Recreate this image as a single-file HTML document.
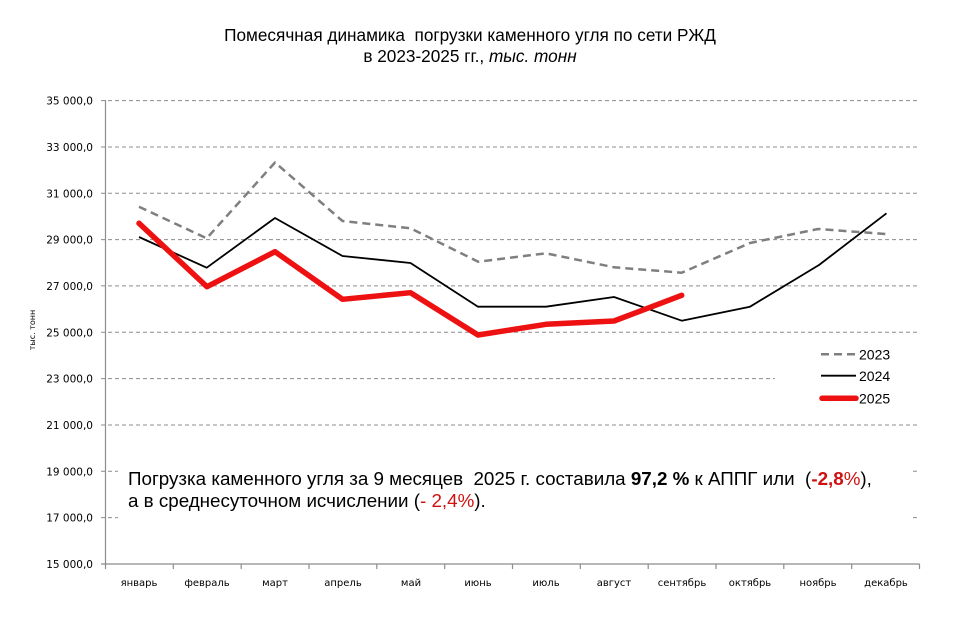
<!DOCTYPE html>
<html><head><meta charset="utf-8"><style>
html,body{margin:0;padding:0;background:#fff;}
svg{display:block;}
.t{font-family:"Liberation Sans",Arial,sans-serif;}
.v{font-family:"DejaVu Sans",Verdana,sans-serif;}
</style></head><body>
<svg width="977" height="638" viewBox="0 0 977 638" xmlns="http://www.w3.org/2000/svg">
<rect width="977" height="638" fill="#fff"/>
<!-- title -->
<text class="t" x="470" y="41" font-size="17.2" text-anchor="middle" fill="#000" style="white-space:pre">Помесячная динамика  погрузки каменного угля по сети РЖД</text>
<text class="t" x="470" y="62" font-size="17.2" text-anchor="middle" fill="#000">в 2023-2025 гг., <tspan font-style="italic">тыс. тонн</tspan></text>
<!-- gridlines -->
<g stroke="#8c8c8c" stroke-width="1" stroke-dasharray="4,3">
<line x1="101" y1="100.6" x2="917" y2="100.6"/>
<line x1="101" y1="147" x2="917" y2="147"/>
<line x1="101" y1="193.3" x2="917" y2="193.3"/>
<line x1="101" y1="239.6" x2="917" y2="239.6"/>
<line x1="101" y1="285.9" x2="917" y2="285.9"/>
<line x1="101" y1="332.3" x2="917" y2="332.3"/>
<line x1="101" y1="378.6" x2="917" y2="378.6"/>
<line x1="101" y1="425" x2="917" y2="425"/>
<line x1="101" y1="471.3" x2="917" y2="471.3"/>
<line x1="101" y1="517.6" x2="917" y2="517.6"/>
</g>
<!-- axes -->
<g stroke="#8c8c8c" stroke-width="1.2">
<line x1="105.5" y1="100" x2="105.5" y2="564"/>
<line x1="101" y1="564" x2="919.5" y2="564"/>
<line x1="105.5" y1="564" x2="105.5" y2="569"/>
<line x1="173.3" y1="564" x2="173.3" y2="569"/>
<line x1="241.2" y1="564" x2="241.2" y2="569"/>
<line x1="309" y1="564" x2="309" y2="569"/>
<line x1="376.8" y1="564" x2="376.8" y2="569"/>
<line x1="444.7" y1="564" x2="444.7" y2="569"/>
<line x1="512.5" y1="564" x2="512.5" y2="569"/>
<line x1="580.3" y1="564" x2="580.3" y2="569"/>
<line x1="648.2" y1="564" x2="648.2" y2="569"/>
<line x1="716" y1="564" x2="716" y2="569"/>
<line x1="783.8" y1="564" x2="783.8" y2="569"/>
<line x1="851.7" y1="564" x2="851.7" y2="569"/>
<line x1="919.5" y1="564" x2="919.5" y2="569"/>
</g>
<!-- y labels -->
<g class="v" font-size="10.5" fill="#000" text-anchor="end">
<text x="93" y="104.6">35 000,0</text>
<text x="93" y="151">33 000,0</text>
<text x="93" y="197.3">31 000,0</text>
<text x="93" y="243.6">29 000,0</text>
<text x="93" y="289.9">27 000,0</text>
<text x="93" y="336.3">25 000,0</text>
<text x="93" y="382.6">23 000,0</text>
<text x="93" y="429">21 000,0</text>
<text x="93" y="475.3">19 000,0</text>
<text x="93" y="521.6">17 000,0</text>
<text x="93" y="568">15 000,0</text>
</g>
<text class="v" font-size="8" fill="#000" text-anchor="middle" transform="translate(35,330) rotate(-90)">тыс. тонн</text>
<!-- x labels -->
<g class="v" font-size="10" fill="#000" text-anchor="middle">
<text x="139" y="586">январь</text>
<text x="207" y="586">февраль</text>
<text x="275" y="586">март</text>
<text x="343" y="586">апрель</text>
<text x="411" y="586">май</text>
<text x="478" y="586">июнь</text>
<text x="546" y="586">июль</text>
<text x="614" y="586">август</text>
<text x="682" y="586">сентябрь</text>
<text x="750" y="586">октябрь</text>
<text x="818" y="586">ноябрь</text>
<text x="886" y="586">декабрь</text>
</g>
<!-- text box and legend backgrounds -->
<rect x="118" y="440" width="795" height="100" fill="#fff"/>
<rect x="775" y="340" width="142" height="70" fill="#fff"/>
<!-- series -->
<polyline fill="none" stroke="#7f7f7f" stroke-width="2.5" stroke-dasharray="8,5" stroke-linejoin="round"
 points="139,206.7 206.7,238.3 275,162.5 342.5,221 410.5,228.3 478.2,261.7 546,253.3 614,267.3 681.7,272.7 750,243 818,229 886,234"/>
<polyline fill="none" stroke="#000" stroke-width="1.8" stroke-linejoin="round"
 points="139,237 206.7,267.7 275,218 342.5,256 410.5,263 478,306.7 546,306.7 614,297 681.7,320.7 750,306.7 819,265 886.5,213.3"/>
<polyline fill="none" stroke="#ee1111" stroke-width="5.5" stroke-linejoin="round" stroke-linecap="round"
 points="139,223.3 207,286.7 275,251.7 342.5,299.3 410.5,292.7 478,335 546,324.3 614,321 681.7,295.3"/>
<!-- legend -->
<line x1="821" y1="354.3" x2="856" y2="354.3" stroke="#7f7f7f" stroke-width="2.5" stroke-dasharray="8,5"/>
<line x1="821" y1="375.7" x2="856" y2="375.7" stroke="#000" stroke-width="1.8"/>
<line x1="822" y1="398.3" x2="856" y2="398.3" stroke="#ee1111" stroke-width="5.5" stroke-linecap="round"/>
<g class="t" font-size="14" fill="#000">
<text x="859" y="359.5">2023</text>
<text x="859" y="381">2024</text>
<text x="859" y="403.5">2025</text>
</g>
<!-- annotation -->
<text class="t" x="128" y="485" font-size="18.8" fill="#000" style="white-space:pre">Погрузка каменного угля за 9 месяцев  2025 г. составила <tspan font-weight="bold">97,2 %</tspan> к АППГ или  (<tspan fill="#d01010"><tspan font-weight="bold">-2,8</tspan>%</tspan>),</text>
<text class="t" x="128" y="507" font-size="18.8" fill="#000" style="white-space:pre">а в среднесуточном исчислении (<tspan fill="#d01010">- 2,4%</tspan>).</text>
</svg>
</body></html>
